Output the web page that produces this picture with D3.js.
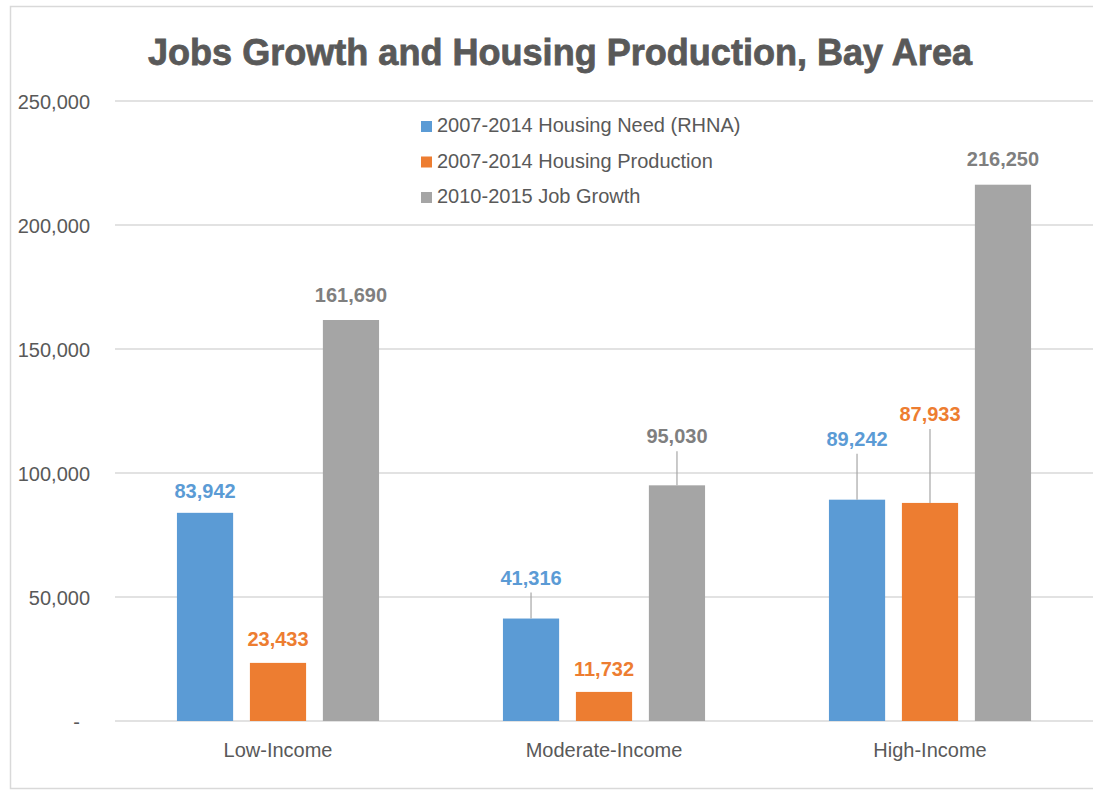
<!DOCTYPE html>
<html>
<head>
<meta charset="utf-8">
<script src="https://cdn.jsdelivr.net/npm/d3@7"></script>
<style>
  body { margin: 0; background: #fff; }
  svg { display: block; font-family: "Liberation Sans", Arial, sans-serif; }
</style>
</head>
<body>
<svg id="chart" width="1093" height="790"></svg>
<script>
const categories = ["Low-Income", "Moderate-Income", "High-Income"];
const seriesNames = [
  "2007-2014 Housing Need (RHNA)",
  "2007-2014 Housing Production",
  "2010-2015 Job Growth"
];
const housingNeed = [83942, 41316, 89242];
const housingProduction = [23433, 11732, 87933];
const jobGrowth = [161690, 95030, 216250];
const yTicks = [0, 50000, 100000, 150000, 200000, 250000];

// label lift above bar top (px), per series then category; bigger ones get a leader line
const labelLift = [
  [15, 34, 54],
  [17, 16, 82],
  [18, 42, 19]
];

const colors = ["#5B9BD5", "#ED7D31", "#A5A5A5"];
const labelColors = ["#5B9BD5", "#ED7D31", "#7F7F7F"];
const textColor = "#595959";

const seriesValues = [housingNeed, housingProduction, jobGrowth];

const svg = d3.select("#chart");

// chart frame
svg.append("rect")
    .attr("x", 10.5)
    .attr("y", 6.5)
    .attr("width", 1100)
    .attr("height", 782)
    .attr("fill", "#fff")
    .attr("stroke", "#D9D9D9")
    .attr("stroke-width", 1.5);

const plot = { left: 115, right: 1093, top: 101, bottom: 721 };

const x0 = d3.scaleBand()
    .domain(categories)
    .range([plot.left, plot.right])
    .paddingInner(0.38)
    .paddingOuter(0.19);

const x1 = d3.scaleBand()
    .domain(d3.range(seriesNames.length))
    .range([0, x0.bandwidth()])
    .paddingInner(0.23)
    .paddingOuter(0);

const y = d3.scaleLinear()
    .domain([0, 250000])
    .range([plot.bottom, plot.top]);

// gridlines
svg.append("g")
    .selectAll("line")
    .data(yTicks)
    .enter()
    .append("line")
    .attr("x1", plot.left)
    .attr("x2", plot.right)
    .attr("y1", d => y(d))
    .attr("y2", d => y(d))
    .attr("stroke", "#D9D9D9")
    .attr("stroke-width", 1.5);

// y axis labels
const yAxis = svg.append("g")
    .attr("transform", `translate(90, 0)`)
    .call(d3.axisLeft(y)
        .tickValues(yTicks)
        .tickSize(0)
        .tickPadding(0)
        .tickFormat(d => d === 0 ? "-" : d3.format(",")(d)));

yAxis.select(".domain").remove();
yAxis.selectAll("text")
    .attr("fill", textColor)
    .style("font-size", "20px")
    .style("font-family", "Liberation Sans, Arial, sans-serif")
    .attr("dy", "0.35em")
    .attr("dx", d => d === 0 ? -10 : 0);

// x axis labels
const xAxis = svg.append("g")
    .attr("transform", `translate(0, ${plot.bottom})`)
    .call(d3.axisBottom(x0).tickSize(0).tickPadding(0));

xAxis.select(".domain").remove();
xAxis.selectAll("text")
    .attr("fill", textColor)
    .style("font-size", "20px")
    .style("font-family", "Liberation Sans, Arial, sans-serif")
    .attr("y", 36)
    .attr("dy", 0);

// bars
const groups = svg.append("g")
    .selectAll("g")
    .data(categories)
    .enter()
    .append("g")
    .attr("transform", d => `translate(${x0(d)}, 0)`);

groups.selectAll("rect")
    .data((c, ci) => seriesValues.map((vals, si) => ({ si, ci, value: vals[ci] })))
    .enter()
    .append("rect")
    .attr("x", d => x1(d.si))
    .attr("width", x1.bandwidth())
    .attr("y", d => y(d.value))
    .attr("height", d => y(0) - y(d.value))
    .attr("fill", d => colors[d.si]);

// leader lines
groups.selectAll("line.leader")
    .data((c, ci) => seriesValues.map((vals, si) => ({ si, ci, value: vals[ci] }))
        .filter(d => labelLift[d.si][d.ci] > 25))
    .enter()
    .append("line")
    .attr("class", "leader")
    .attr("x1", d => x1(d.si) + x1.bandwidth() / 2)
    .attr("x2", d => x1(d.si) + x1.bandwidth() / 2)
    .attr("y1", d => y(d.value) - labelLift[d.si][d.ci] + 8)
    .attr("y2", d => y(d.value))
    .attr("stroke", "#A6A6A6")
    .attr("stroke-width", 1.2);

// data labels
groups.selectAll("text.value")
    .data((c, ci) => seriesValues.map((vals, si) => ({ si, ci, value: vals[ci] })))
    .enter()
    .append("text")
    .attr("class", "value")
    .attr("x", d => x1(d.si) + x1.bandwidth() / 2)
    .attr("y", d => y(d.value) - labelLift[d.si][d.ci])
    .attr("text-anchor", "middle")
    .attr("fill", d => labelColors[d.si])
    .style("font-size", "20px")
    .style("font-weight", "bold")
    .text(d => d3.format(",")(d.value));

// legend
const legend = svg.append("g")
    .attr("transform", "translate(421, 0)");

const legendRows = legend.selectAll("g")
    .data(seriesNames)
    .enter()
    .append("g")
    .attr("transform", (d, i) => `translate(0, ${132 + i * 35.5})`);

legendRows.append("rect")
    .attr("x", 0)
    .attr("y", -11)
    .attr("width", 11)
    .attr("height", 11)
    .attr("fill", (d, i) => colors[i]);

legendRows.append("text")
    .attr("x", 16)
    .attr("y", 0)
    .attr("fill", textColor)
    .style("font-size", "20px")
    .text(d => d);

// title
svg.append("text")
    .attr("x", 560)
    .attr("y", 65)
    .attr("text-anchor", "middle")
    .attr("fill", textColor)
    .attr("stroke", textColor)
    .attr("stroke-width", 0.8)
    .attr("textLength", 824)
    .attr("lengthAdjust", "spacingAndGlyphs")
    .style("font-size", "37px")
    .style("font-weight", "bold")
    .text("Jobs Growth and Housing Production, Bay Area");
</script>
</body>
</html>
